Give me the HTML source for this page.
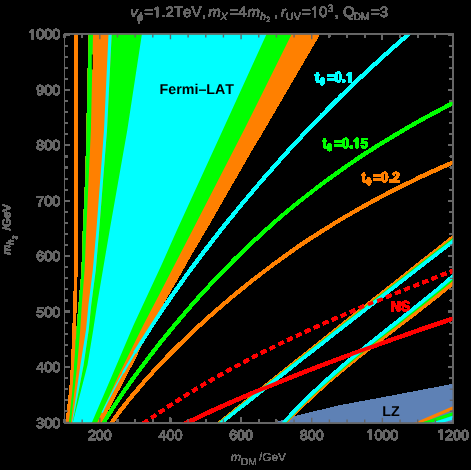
<!DOCTYPE html>
<html><head><meta charset="utf-8"><style>
html,body{margin:0;padding:0;background:#000;}
svg{display:block;font-family:"Liberation Sans",sans-serif;text-rendering:geometricPrecision;font-kerning:none;}
</style></head><body>
<svg width="471" height="470" viewBox="0 0 471 470">
<rect width="471" height="470" fill="#000"/>
<defs><clipPath id="c"><rect x="64.5" y="34.3" width="388.5" height="388.5"/></clipPath>
<filter id="th" filterUnits="userSpaceOnUse" x="0" y="0" width="471" height="470" color-interpolation-filters="sRGB">
<feComponentTransfer><feFuncA type="discrete" tableValues="0 1 1 1 1 1 1 1 1 1 1 1 1 1 1 1"/></feComponentTransfer>
</filter>
<filter id="th2" filterUnits="userSpaceOnUse" x="0" y="0" width="471" height="470" color-interpolation-filters="sRGB">
<feComponentTransfer><feFuncA type="discrete" tableValues="0 1 1 1 1 1 1 1"/></feComponentTransfer>
</filter></defs>
<g filter="url(#th)">
<g clip-path="url(#c)">
<polygon points="88.8,30.0 88.7,34.0 86.6,130.0 85.5,175.0 83.0,230.0 81.7,270.0 78.7,305.0 76.6,330.0 74.0,365.0 68.9,422.5 68.5,427.0 99.3,427.0 101.5,422.8 126.7,375.0 135.0,358.8 151.0,325.0 172.5,287.4 181.3,272.6 191.9,253.4 207.0,228.0 253.8,146.5 260.0,136.4 319.8,34.0 322.1,30.0" fill="#ff8000"/>
<polygon points="88.8,30.0 88.7,34.0 86.6,130.0 85.5,175.0 83.0,230.0 81.7,270.0 78.7,305.0 76.6,330.0 74.0,365.0 68.9,422.5 68.5,427.0 70.5,427.0 71.0,422.5 77.2,365.0 80.2,330.0 81.8,305.0 84.6,270.0 86.3,230.0 90.9,130.0 93.0,34.0 93.1,30.0" fill="#00ff00"/>
<polygon points="111.9,30.0 111.7,34.0 107.0,130.0 99.2,230.0 95.8,270.0 91.2,305.0 88.7,330.0 83.6,365.0 72.6,422.5 71.7,427.0 95.2,427.0 97.2,422.5 118.7,375.0 143.4,325.0 158.5,296.0 174.5,265.0 192.6,230.0 244.0,130.0 260.0,98.0 291.7,34.0 293.7,30.0" fill="#00ff00"/>
<polygon points="108.7,30.0 108.5,34.0 104.0,130.0 96.4,230.0 92.8,270.0 88.4,305.0 86.0,330.0 80.4,365.0 72.0,422.5 71.3,427.0 71.7,427.0 72.6,422.5 83.6,365.0 88.7,330.0 91.2,305.0 95.8,270.0 99.2,230.0 107.0,130.0 111.7,34.0 111.9,30.0" fill="#00ffff"/>
<polygon points="142.5,30.0 141.9,34.0 127.3,130.0 109.7,230.0 102.9,270.0 97.0,305.0 93.2,330.0 87.5,365.0 72.8,422.5 71.6,427.0 90.0,427.0 91.9,422.5 112.3,375.0 133.6,325.0 161.5,265.0 177.0,230.0 222.8,130.0 266.6,34.0 268.4,30.0" fill="#00ffff"/>
<rect x="91.8" y="54.5" width="1" height="15" fill="#000"/>
<path d="M76.0,24.0C76.0,25.0 76.0,9.0 76.0,30.0C76.0,51.0 76.2,119.2 76.2,150.0C76.2,180.8 76.2,195.0 76.1,215.0C76.0,235.0 76.0,255.0 75.8,270.0C75.6,285.0 75.2,295.0 74.9,305.0C74.6,315.0 74.5,320.0 74.1,330.0C73.7,340.0 73.1,355.0 72.6,365.0C72.1,375.0 71.8,380.4 70.9,390.0C70.0,399.6 68.0,416.1 67.3,422.5C66.6,428.9 66.7,427.5 66.6,428.5" fill="none" stroke="#ff8000" stroke-width="2.8" />
<polygon points="266.0,427.0 277.0,422.5 290.0,417.6 315.0,411.4 340.0,405.4 390.0,396.3 456.0,383.8 456.0,427.0" fill="#5e81b5"/>
<path d="M458.4,159.8C457.4,160.2 460.1,159.0 452.9,162.3C445.6,165.6 426.9,173.9 414.9,179.7C402.8,185.5 391.4,191.2 380.5,197.0C369.6,202.8 359.3,208.6 349.4,214.4C339.4,220.2 330.0,226.0 320.9,231.8C311.8,237.6 303.1,243.3 294.7,249.1C286.4,254.9 278.3,260.7 270.6,266.5C262.8,272.3 255.3,278.1 248.0,283.9C240.8,289.7 233.8,295.4 226.9,301.2C220.1,307.0 213.5,312.8 207.1,318.6C200.7,324.4 194.4,330.2 188.4,336.0C182.3,341.8 176.4,347.5 170.7,353.3C165.0,359.1 159.5,364.9 154.2,370.7C148.8,376.5 143.6,382.3 138.7,388.1C133.7,393.9 128.9,399.6 124.4,405.4C119.8,411.2 114.2,419.1 111.5,422.8C108.7,426.5 108.5,426.8 107.9,427.6" fill="none" stroke="#ff8000" stroke-width="3.4" />
<path d="M458.8,99.8C457.9,100.2 461.0,98.6 453.5,102.6C446.1,106.6 426.5,116.8 413.9,123.9C401.4,131.1 389.6,138.2 378.2,145.3C366.9,152.4 356.2,159.5 345.9,166.6C335.6,173.8 325.9,180.9 316.6,188.0C307.2,195.1 298.3,202.2 289.7,209.3C281.1,216.4 272.9,223.6 265.0,230.7C257.1,237.8 249.5,244.9 242.2,252.0C234.8,259.1 227.8,266.3 220.9,273.4C214.1,280.5 207.5,287.6 201.0,294.7C194.6,301.8 188.3,309.0 182.3,316.1C176.2,323.2 170.3,330.3 164.6,337.4C158.8,344.5 153.3,351.6 147.8,358.8C142.4,365.9 137.2,373.0 132.0,380.1C126.9,387.2 122.0,394.3 117.2,401.5C112.4,408.6 106.2,418.4 103.4,422.8C100.5,427.2 100.6,427.0 100.1,427.8" fill="none" stroke="#00ff00" stroke-width="3.4" />
<path d="M122.9,373.0C122.0,374.6 119.2,379.6 117.4,382.9C115.6,386.2 113.8,389.6 112.0,392.9C110.3,396.2 108.6,399.5 106.9,402.9C105.2,406.2 102.8,411.2 102.0,412.8" fill="none" stroke="#00ffff" stroke-width="1.3" />
<path d="M134.6,353.0C133.6,354.7 130.6,359.7 128.7,363.0C126.7,366.3 123.9,371.3 122.9,373.0" fill="none" stroke="#00ffff" stroke-width="2.2" />
<path d="M413.4,30.1C412.6,30.7 411.5,31.7 408.8,34.0C406.2,36.3 401.1,40.6 397.3,44.0C393.5,47.3 389.7,50.6 386.0,53.9C382.3,57.3 378.6,60.6 375.0,63.9C371.4,67.2 367.8,70.6 364.2,73.9C360.7,77.2 357.2,80.5 353.7,83.8C350.2,87.2 346.8,90.5 343.4,93.8C340.0,97.1 336.6,100.5 333.3,103.8C330.0,107.1 326.7,110.4 323.4,113.8C320.1,117.1 316.9,120.4 313.7,123.7C310.5,127.0 307.3,130.4 304.2,133.7C301.1,137.0 298.0,140.3 294.9,143.7C291.8,147.0 288.7,150.3 285.7,153.6C282.7,157.0 279.7,160.3 276.7,163.6C273.8,166.9 270.8,170.2 267.9,173.6C265.0,176.9 262.1,180.2 259.3,183.5C256.4,186.9 253.6,190.2 250.8,193.5C248.0,196.8 245.2,200.2 242.4,203.5C239.6,206.8 236.9,210.1 234.2,213.4C231.5,216.8 228.8,220.1 226.1,223.4C223.5,226.7 220.8,230.1 218.2,233.4C215.6,236.7 213.0,240.0 210.4,243.4C207.9,246.7 205.3,250.0 202.8,253.3C200.3,256.6 197.8,260.0 195.3,263.3C192.8,266.6 190.4,269.9 188.0,273.3C185.5,276.6 183.1,279.9 180.8,283.2C178.4,286.6 176.0,289.9 173.7,293.2C171.4,296.5 169.1,299.8 166.8,303.2C164.5,306.5 162.3,309.8 160.0,313.1C157.8,316.5 155.6,319.8 153.4,323.1C151.3,326.4 149.1,329.8 147.0,333.1C144.9,336.4 142.8,339.7 140.7,343.0C138.6,346.4 135.6,351.4 134.6,353.0" fill="none" stroke="#00ffff" stroke-width="3.4" />
<path d="M215.9,426.0C216.7,425.4 215.5,426.3 220.6,422.2C225.7,418.2 237.8,408.4 246.4,401.6C255.0,394.7 263.5,387.8 272.1,380.9C280.7,374.0 289.3,367.2 297.9,360.3C306.5,353.5 315.1,346.6 323.7,339.8C332.3,332.9 340.8,326.1 349.4,319.3C358.0,312.5 366.6,305.7 375.2,298.9C383.8,292.0 392.4,285.3 401.0,278.5C409.6,271.7 418.1,264.9 426.7,258.1C435.3,251.4 447.4,241.9 452.5,237.9C457.6,233.9 456.4,234.8 457.2,234.1" fill="none" stroke="#ff8000" stroke-width="3.4" />
<path d="M215.9,426.5C216.7,425.9 215.5,426.8 220.6,422.8C225.7,418.7 237.8,409.1 246.4,402.3C255.0,395.5 263.5,388.7 272.1,381.9C280.7,375.1 289.3,368.3 297.9,361.5C306.5,354.7 315.1,347.9 323.7,341.2C332.3,334.4 340.8,327.7 349.4,320.9C358.0,314.2 366.6,307.4 375.2,300.7C383.8,294.0 392.4,287.2 401.0,280.5C409.6,273.8 418.1,267.1 426.7,260.4C435.3,253.7 447.4,244.3 452.5,240.4C457.6,236.4 456.4,237.3 457.2,236.7" fill="none" stroke="#00ff00" stroke-width="3.4" />
<path d="M215.9,426.7C216.7,426.1 215.5,427.0 220.6,423.0C225.7,419.0 237.8,409.4 246.4,402.6C255.0,395.8 263.5,389.0 272.1,382.3C280.7,375.5 289.3,368.8 297.9,362.0C306.5,355.3 315.1,348.5 323.7,341.8C332.3,335.1 340.8,328.3 349.4,321.6C358.0,314.9 366.6,308.2 375.2,301.5C383.8,294.8 392.4,288.1 401.0,281.4C409.6,274.8 418.1,268.1 426.7,261.4C435.3,254.8 447.4,245.4 452.5,241.5C457.6,237.5 456.5,238.4 457.2,237.8" fill="none" stroke="#00ffff" stroke-width="3.4" />
<path d="M279.5,428.5C280.2,427.8 279.9,428.1 283.7,424.2C287.5,420.4 296.2,411.4 302.4,405.3C308.7,399.3 314.9,393.5 321.2,387.9C327.4,382.3 333.7,377.0 339.9,371.8C346.1,366.5 352.4,361.5 358.6,356.5C364.9,351.5 371.1,346.7 377.4,341.9C383.6,337.1 389.9,332.3 396.1,327.6C402.3,322.8 408.6,318.1 414.8,313.3C421.1,308.4 427.3,303.6 433.6,298.7C439.8,293.7 448.4,286.6 452.3,283.5C456.2,280.3 456.2,280.3 457.0,279.7" fill="none" stroke="#ff8000" stroke-width="3.4" />
<path d="M279.5,427.4C280.2,426.7 279.9,427.0 283.7,423.1C287.5,419.2 296.2,410.0 302.4,403.8C308.7,397.7 314.9,391.8 321.2,386.1C327.4,380.4 333.7,374.9 339.9,369.6C346.1,364.2 352.4,359.0 358.6,353.9C364.9,348.8 371.1,343.9 377.4,338.9C383.6,334.0 389.9,329.2 396.1,324.3C402.3,319.4 408.6,314.5 414.8,309.6C421.1,304.7 427.3,299.7 433.6,294.6C439.8,289.5 448.4,282.3 452.3,279.1C456.2,275.9 456.1,275.9 456.9,275.3" fill="none" stroke="#00ff00" stroke-width="3.4" />
<path d="M279.5,426.9C280.2,426.2 279.9,426.6 283.7,422.6C287.5,418.7 296.2,409.4 302.4,403.2C308.7,397.0 314.9,391.0 321.2,385.3C327.4,379.5 333.7,374.0 339.9,368.6C346.1,363.1 352.4,357.9 358.6,352.8C364.9,347.6 371.1,342.6 377.4,337.6C383.6,332.6 389.9,327.7 396.1,322.8C402.3,317.8 408.6,312.9 414.8,307.9C421.1,302.9 427.3,297.9 433.6,292.8C439.8,287.7 448.4,280.3 452.3,277.1C456.2,273.8 456.1,273.9 456.9,273.2" fill="none" stroke="#00ffff" stroke-width="3.4" />
<path d="M413.8,424.9C414.7,424.5 412.8,425.3 419.3,422.5C425.8,419.7 446.5,410.8 453.0,408.0C459.5,405.2 457.6,406.0 458.5,405.6" fill="none" stroke="#ff8000" stroke-width="3.4" />
<path d="M421.3,424.4C422.3,424.1 421.7,424.3 427.0,422.5C432.3,420.7 447.7,415.6 453.0,413.8C458.3,412.0 457.7,412.2 458.7,411.9" fill="none" stroke="#00ff00" stroke-width="3.4" />
<path d="M431.8,424.3C432.7,424.0 434.0,423.6 437.5,422.5C441.0,421.4 449.5,418.7 453.0,417.6C456.5,416.5 457.8,416.1 458.7,415.8" fill="none" stroke="#00ffff" stroke-width="3.4" />
<path d="M140.7,425.0C141.5,424.5 139.2,426.0 145.7,421.7C152.2,417.4 168.5,406.3 179.8,399.1C191.2,391.9 202.6,385.1 214.0,378.5C225.4,372.0 236.8,365.8 248.1,359.8C259.5,353.8 270.9,348.1 282.3,342.6C293.7,337.1 305.0,331.9 316.4,326.7C327.8,321.6 339.2,316.7 350.6,311.9C361.9,307.0 373.3,302.4 384.7,297.8C396.1,293.1 407.5,288.6 418.9,284.1C430.2,279.6 446.4,273.3 453.0,270.7C459.6,268.1 457.7,268.9 458.6,268.6" fill="none" stroke="#ff0000" stroke-width="3.4" stroke-dasharray="5.6 4.2" stroke-dashoffset="-3"/>
<path d="M181.0,425.3C181.9,424.9 180.6,425.5 186.4,422.8C192.2,420.1 206.1,413.5 216.0,409.0C225.9,404.6 235.8,400.2 245.6,396.0C255.5,391.8 265.4,387.7 275.3,383.6C285.1,379.6 295.0,375.7 304.9,371.8C314.8,367.9 324.6,364.2 334.5,360.5C344.4,356.7 354.3,353.1 364.1,349.5C374.0,346.0 383.9,342.4 393.8,339.0C403.6,335.5 413.5,332.0 423.4,328.6C433.3,325.2 447.1,320.5 453.0,318.5C458.9,316.5 457.7,316.9 458.7,316.6" fill="none" stroke="#ff0000" stroke-width="3.7" />
</g>
<rect x="64.5" y="34.3" width="388.5" height="388.5" fill="none" stroke="#666666" stroke-width="1"/>
<path d="M64.50,422.8v-3.2M64.50,34.3v3.2M82.16,422.8v-3.2M82.16,34.3v3.2M99.82,422.8v-5M99.82,34.3v5M117.48,422.8v-3.2M117.48,34.3v3.2M135.14,422.8v-3.2M135.14,34.3v3.2M152.80,422.8v-3.2M152.80,34.3v3.2M170.45,422.8v-5M170.45,34.3v5M188.11,422.8v-3.2M188.11,34.3v3.2M205.77,422.8v-3.2M205.77,34.3v3.2M223.43,422.8v-3.2M223.43,34.3v3.2M241.09,422.8v-5M241.09,34.3v5M258.75,422.8v-3.2M258.75,34.3v3.2M276.41,422.8v-3.2M276.41,34.3v3.2M294.07,422.8v-3.2M294.07,34.3v3.2M311.73,422.8v-5M311.73,34.3v5M329.39,422.8v-3.2M329.39,34.3v3.2M347.05,422.8v-3.2M347.05,34.3v3.2M364.70,422.8v-3.2M364.70,34.3v3.2M382.36,422.8v-5M382.36,34.3v5M400.02,422.8v-3.2M400.02,34.3v3.2M417.68,422.8v-3.2M417.68,34.3v3.2M435.34,422.8v-3.2M435.34,34.3v3.2M453.00,422.8v-5M453.00,34.3v5M64.5,422.35h5M453.0,422.35h-5M64.5,411.27h3.2M453.0,411.27h-3.2M64.5,400.19h3.2M453.0,400.19h-3.2M64.5,389.12h3.2M453.0,389.12h-3.2M64.5,378.04h3.2M453.0,378.04h-3.2M64.5,366.96h5M453.0,366.96h-5M64.5,355.88h3.2M453.0,355.88h-3.2M64.5,344.80h3.2M453.0,344.80h-3.2M64.5,333.73h3.2M453.0,333.73h-3.2M64.5,322.65h3.2M453.0,322.65h-3.2M64.5,311.57h5M453.0,311.57h-5M64.5,300.49h3.2M453.0,300.49h-3.2M64.5,289.41h3.2M453.0,289.41h-3.2M64.5,278.34h3.2M453.0,278.34h-3.2M64.5,267.26h3.2M453.0,267.26h-3.2M64.5,256.18h5M453.0,256.18h-5M64.5,245.10h3.2M453.0,245.10h-3.2M64.5,234.02h3.2M453.0,234.02h-3.2M64.5,222.95h3.2M453.0,222.95h-3.2M64.5,211.87h3.2M453.0,211.87h-3.2M64.5,200.79h5M453.0,200.79h-5M64.5,189.71h3.2M453.0,189.71h-3.2M64.5,178.63h3.2M453.0,178.63h-3.2M64.5,167.56h3.2M453.0,167.56h-3.2M64.5,156.48h3.2M453.0,156.48h-3.2M64.5,145.40h5M453.0,145.40h-5M64.5,134.32h3.2M453.0,134.32h-3.2M64.5,123.24h3.2M453.0,123.24h-3.2M64.5,112.17h3.2M453.0,112.17h-3.2M64.5,101.09h3.2M453.0,101.09h-3.2M64.5,90.01h5M453.0,90.01h-5M64.5,78.93h3.2M453.0,78.93h-3.2M64.5,67.85h3.2M453.0,67.85h-3.2M64.5,56.78h3.2M453.0,56.78h-3.2M64.5,45.70h3.2M453.0,45.70h-3.2M64.5,34.62h5M453.0,34.62h-5" stroke="#666666" stroke-width="1.4" fill="none"/>
<text x="87.89" y="439.5" font-size="14.3" fill="#666666" stroke="#666666" stroke-width="0.5">200</text>
<text x="158.53" y="439.5" font-size="14.3" fill="#666666" stroke="#666666" stroke-width="0.5">400</text>
<text x="229.16" y="439.5" font-size="14.3" fill="#666666" stroke="#666666" stroke-width="0.5">600</text>
<text x="299.80" y="439.5" font-size="14.3" fill="#666666" stroke="#666666" stroke-width="0.5">800</text>
<path transform="translate(366.46,439.5) scale(0.00698,-0.00698)" d="M515 0V1237L197 1010V1180L530 1409H696V0Z" fill="#666666" vector-effect="non-scaling-stroke" stroke="#666666" stroke-width="0.5"/><text x="374.41" y="439.5" font-size="14.3" fill="#666666" stroke="#666666" stroke-width="0.5">000</text>
<path transform="translate(437.09,439.5) scale(0.00698,-0.00698)" d="M515 0V1237L197 1010V1180L530 1409H696V0Z" fill="#666666" vector-effect="non-scaling-stroke" stroke="#666666" stroke-width="0.5"/><text x="445.05" y="439.5" font-size="14.3" fill="#666666" stroke="#666666" stroke-width="0.5">200</text>
<text x="36.34" y="427.9" font-size="14.3" fill="#666666" stroke="#666666" stroke-width="0.5">300</text>
<text x="36.34" y="372.4" font-size="14.3" fill="#666666" stroke="#666666" stroke-width="0.5">400</text>
<text x="36.34" y="316.9" font-size="14.3" fill="#666666" stroke="#666666" stroke-width="0.5">500</text>
<text x="36.34" y="261.4" font-size="14.3" fill="#666666" stroke="#666666" stroke-width="0.5">600</text>
<text x="36.34" y="205.9" font-size="14.3" fill="#666666" stroke="#666666" stroke-width="0.5">700</text>
<text x="36.34" y="150.4" font-size="14.3" fill="#666666" stroke="#666666" stroke-width="0.5">800</text>
<text x="36.34" y="94.9" font-size="14.3" fill="#666666" stroke="#666666" stroke-width="0.5">900</text>
<path transform="translate(28.39,39.4) scale(0.00698,-0.00698)" d="M515 0V1237L197 1010V1180L530 1409H696V0Z" fill="#666666" vector-effect="non-scaling-stroke" stroke="#666666" stroke-width="0.5"/><text x="36.34" y="39.4" font-size="14.3" fill="#666666" stroke="#666666" stroke-width="0.5">000</text>
<text x="130.2" y="17.2" font-size="15" font-style="italic" fill="#666666" stroke="#666666" stroke-width="0.15">v</text>
<text x="136.7" y="20.5" font-size="11.5" font-style="italic" fill="#666666" >ϕ</text>
<text x="144.30" y="17.2" font-size="15" fill="#666666" stroke="#666666" stroke-width="0.15">=</text><path transform="translate(153.06,17.2) scale(0.00732,-0.00732)" d="M515 0V1237L197 1010V1180L530 1409H696V0Z" fill="#666666" vector-effect="non-scaling-stroke" stroke="#666666" stroke-width="0.15"/><text x="161.40" y="17.2" font-size="15" fill="#666666" stroke="#666666" stroke-width="0.15">.2TeV</text>
<text x="201.9" y="17.2" font-size="15" fill="#666666" stroke="#666666" stroke-width="0.15">,</text>
<text x="208.2" y="17.2" font-size="15" font-style="italic" fill="#666666" stroke="#666666" stroke-width="0.15">m</text>
<text x="220.4" y="20.1" font-size="10.65" font-style="italic" fill="#666666" >X</text>
<text x="229.5" y="17.2" font-size="15" fill="#666666" stroke="#666666" stroke-width="0.15">=4</text>
<text x="247.4" y="17.2" font-size="15" font-style="italic" fill="#666666" stroke="#666666" stroke-width="0.15">m</text>
<text x="260.0" y="20.1" font-size="10.65" font-style="italic" fill="#666666" >h</text>
<text x="266.2" y="22.2" font-size="7.6" fill="#666666" >2</text>
<text x="273.7" y="17.2" font-size="15" fill="#666666" stroke="#666666" stroke-width="0.15">,</text>
<text x="280.8" y="17.2" font-size="15" font-style="italic" fill="#666666" stroke="#666666" stroke-width="0.15">r</text>
<text x="286.0" y="20.1" font-size="10.65" fill="#666666" >UV</text>
<text x="302.00" y="17.2" font-size="15" fill="#666666" stroke="#666666" stroke-width="0.15">=</text><path transform="translate(310.76,17.2) scale(0.00732,-0.00732)" d="M515 0V1237L197 1010V1180L530 1409H696V0Z" fill="#666666" vector-effect="non-scaling-stroke" stroke="#666666" stroke-width="0.15"/><text x="319.10" y="17.2" font-size="15" fill="#666666" stroke="#666666" stroke-width="0.15">0</text>
<text x="327.6" y="11.6" font-size="10.65" fill="#666666" >3</text>
<text x="334.6" y="17.2" font-size="15" fill="#666666" stroke="#666666" stroke-width="0.15">,</text>
<text x="343.0" y="17.2" font-size="15" fill="#666666" stroke="#666666" stroke-width="0.15">Q</text>
<text x="353.2" y="20.1" font-size="10.65" fill="#666666" >DM</text>
<text x="371.0" y="17.2" font-size="15" fill="#666666" stroke="#666666" stroke-width="0.15">=3</text>
<text x="159.6" y="93.8" font-size="14.25" font-weight="bold" fill="#000">Fermi–LAT</text>
<text x="382.2" y="416.1" font-size="14.25" font-weight="bold" fill="#000">LZ</text>
<text x="390.4" y="310.8" font-size="14.25" font-weight="bold" fill="#ff0000" stroke="#ff0000" stroke-width="0.5">NS</text>
<g transform="translate(315.1,82.4) scale(1,1.06)" font-weight="bold" fill="#00ffff" stroke="#00ffff" stroke-width="0.5"><text x="0" y="0" font-size="13.5">t</text><text x="4.7" y="2.6" font-size="9.4">θ</text><text x="11.60" y="0" font-size="13.5" font-weight="bold" fill="#00ffff" >=0.</text><path transform="translate(30.74,0) scale(0.00659,-0.00659)" d="M478 0V1170L140 959V1180L493 1409H759V0Z" fill="#00ffff" vector-effect="non-scaling-stroke" /></g>
<g transform="translate(322.2,148.2) scale(1,1.06)" font-weight="bold" fill="#00ff00" stroke="#00ff00" stroke-width="0.5"><text x="0" y="0" font-size="13.5">t</text><text x="4.7" y="2.6" font-size="9.4">θ</text><text x="11.60" y="0" font-size="13.5" font-weight="bold" fill="#00ff00" >=0.</text><path transform="translate(30.74,0) scale(0.00659,-0.00659)" d="M478 0V1170L140 959V1180L493 1409H759V0Z" fill="#00ff00" vector-effect="non-scaling-stroke" /><text x="38.25" y="0" font-size="13.5" font-weight="bold" fill="#00ff00" >5</text></g>
<g transform="translate(361.6,182.2) scale(1,1.06)" font-weight="bold" fill="#ff8000" stroke="#ff8000" stroke-width="0.5"><text x="0" y="0" font-size="13.5">t</text><text x="4.7" y="2.6" font-size="9.4">θ</text><text x="11.60" y="0" font-size="13.5" font-weight="bold" fill="#ff8000" >=0.2</text></g>
</g>
<g filter="url(#th2)">
<text x="230.8" y="461.2" font-size="11.8" font-style="italic" textLength="10.2" lengthAdjust="spacingAndGlyphs" fill="#666666">m</text>
<text x="240.8" y="464.5" font-size="10" textLength="16.2" lengthAdjust="spacingAndGlyphs" fill="#666666">DM</text>
<text x="258.9" y="461.2" font-size="11.5" textLength="27.0" lengthAdjust="spacingAndGlyphs" fill="#666666">/GeV</text>
<g transform="translate(10.4,254.5) rotate(-90)"><text x="0" y="0.0" font-size="11.8" font-style="italic" fill="#666666">m</text><text x="9.8" y="3.1" font-size="9.0" font-style="italic" fill="#666666">h</text><text x="15.0" y="6.9" font-size="7.0" fill="#666666">2</text><text x="24.3" y="0.0" font-size="11.5" fill="#666666">/GeV</text></g>
</g>
</svg>
</body></html>
